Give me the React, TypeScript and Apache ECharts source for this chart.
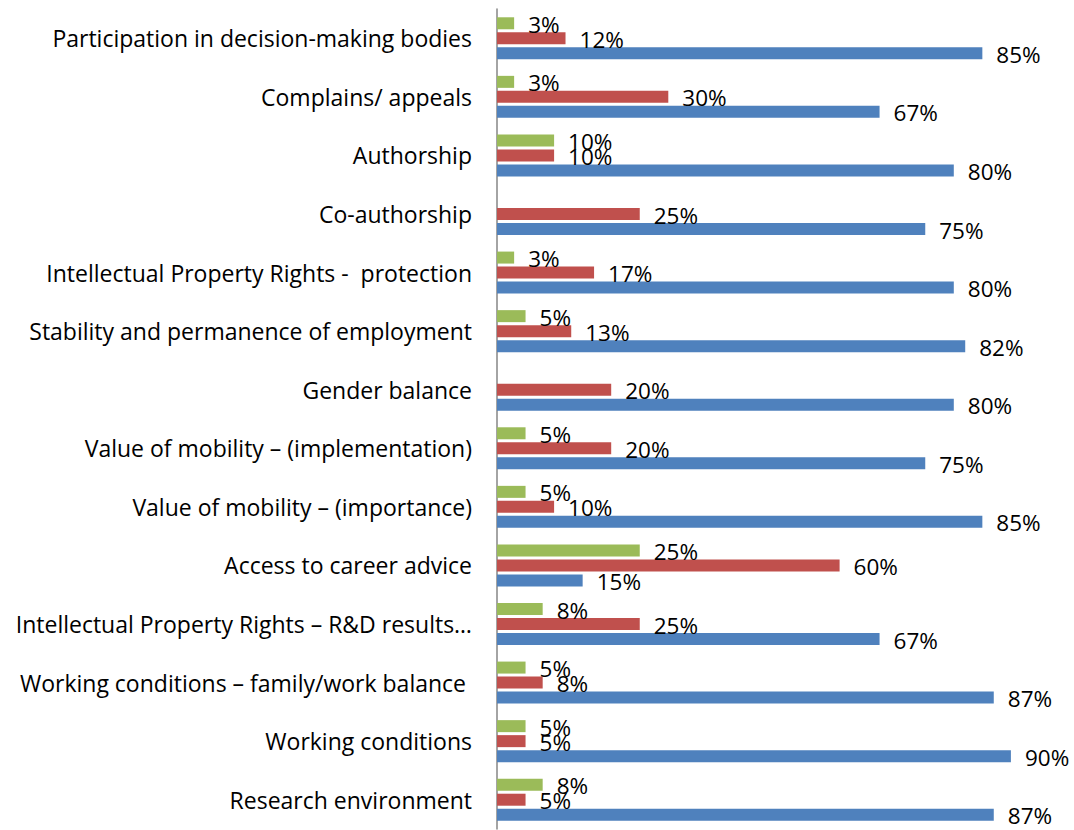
import React, { useEffect, useRef } from "react";
import * as echarts from "echarts";

// Categories listed top to bottom as they appear in the chart
const categories: string[] = [
  "Participation in decision-making bodies",
  "Complains/ appeals",
  "Authorship",
  "Co-authorship",
  "Intellectual Property Rights -  protection",
  "Stability and permanence of employment",
  "Gender balance",
  "Value of mobility – (implementation)",
  "Value of mobility – (importance)",
  "Access to career advice",
  "Intellectual Property Rights – R&D results…",
  "Working conditions – family/work balance ",
  "Working conditions",
  "Research environment",
];

const blueValues: (number | null)[] = [85, 67, 80, 75, 80, 82, 80, 75, 85, 15, 67, 87, 90, 87];
const redValues: (number | null)[] = [12, 30, 10, 25, 17, 13, 20, 20, 10, 60, 25, 8, 5, 5];
const greenValues: (number | null)[] = [3, 3, 10, null, 3, 5, null, 5, 5, 25, 8, 5, 5, 8];

const FONT = "'Open Sans', sans-serif";

export default function App() {
  const ref = useRef<HTMLDivElement>(null);
  useEffect(() => {
    if (!ref.current) return;
    const chart = echarts.init(ref.current, undefined, { renderer: "svg" });
    const cats = [...categories].reverse();
    const rev = (a: (number | null)[]) => [...a].reverse();
    const label = {
      show: true,
      position: "right" as const,
      distance: 14,
      color: "#000",
      fontSize: 22.5,
      fontFamily: FONT,
      formatter: (p: any) => (p.value == null ? "" : `${p.value}%`),
      offset: [0, 1],
    };
    const mk = (name: string, data: (number | null)[], color: string) => ({
      name,
      type: "bar" as const,
      data,
      barWidth: 12,
      barGap: "25%",
      itemStyle: { color },
      label,
    });
    chart.setOption({
      animation: false,
      grid: { left: 497, right: 6, top: 9, bottom: 1, containLabel: false },
      xAxis: {
        type: "value",
        min: 0,
        max: 100,
        show: false,
      },
      yAxis: {
        type: "category",
        data: cats,
        axisLine: { show: true, lineStyle: { color: "#868686", width: 1.5 } },
        axisTick: { show: false },
        splitLine: { show: false },
        axisLabel: {
          color: "#000",
          fontSize: 23,
          fontFamily: FONT,
          margin: 25,
        },
      },
      series: [
        mk("Series 3", rev(greenValues), "#9BBB59"),
        mk("Series 2", rev(redValues), "#C0504D"),
        mk("Series 1", rev(blueValues), "#4F81BD"),
      ],
    });
    return () => chart.dispose();
  }, []);
  return (
    <div
      ref={ref}
      style={{ position: "fixed", left: 0, top: 0, width: 1074, height: 830, background: "#fff" }}
    />
  );
}
